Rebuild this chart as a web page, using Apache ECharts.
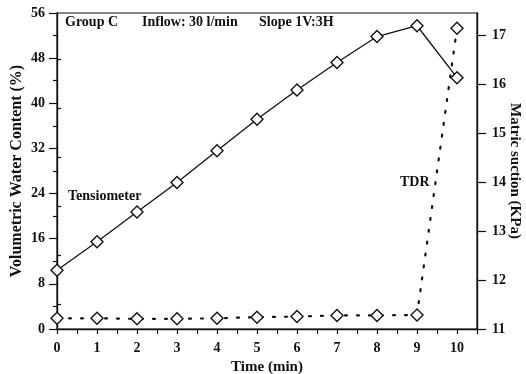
<!DOCTYPE html>
<html>
<head>
<meta charset="utf-8">
<script src="https://cdn.jsdelivr.net/npm/echarts@6/dist/echarts.min.js"></script>
<style>
html,body{margin:0;padding:0;background:#fff;}
#chart{width:526px;height:374px;}
</style>
</head>
<body>
<div id="chart"></div>
<script>
// Data
var time = [0, 1, 2, 3, 4, 5, 6, 7, 8, 9, 10];
var tensiometer = [12.20, 12.78, 13.39, 13.99, 14.64, 15.28, 15.88, 16.44, 16.97, 17.19, 16.13]; // Matric suction (KPa), right axis
var tdr = [1.9, 1.9, 1.8, 1.8, 1.9, 2.1, 2.2, 2.4, 2.4, 2.5, 53.3]; // Volumetric water content (%), left axis
var xTickLabels = [0, 1, 2, 3, 4, 5, 6, 7, 8, 9, 10];
var rightTickLabels = [11, 12, 13, 14, 15, 16, 17];
var rightMinorTicks = [11.5, 12.5, 13.5, 14.5, 15.5, 16.5];

var FONT = '"Liberation Serif", "DejaVu Serif", serif';
var INK = '#111';

var chart = echarts.init(document.getElementById('chart'), null, {renderer: 'canvas'});

function pairs(xs, ys) { return xs.map(function (x, i) { return [x, ys[i]]; }); }

var diamond = {
  symbol: 'diamond',
  symbolSize: 12,
  itemStyle: {color: '#fff', borderColor: INK, borderWidth: 1.4}
};

var option = {
  backgroundColor: '#fff',
  animation: false,
  textStyle: {fontFamily: FONT},
  grid: {left: 57, right: 49, top: 13, bottom: 45, containLabel: false, outerBoundsMode: 'none',
         show: true, borderColor: INK, borderWidth: 1.2, backgroundColor: 'transparent'},
  xAxis: {
    type: 'value', min: 0, max: 10.5, interval: 0.5,
    name: 'Time (min)', nameLocation: 'middle', nameGap: 31, nameMoveOverlap: false,
    nameTextStyle: {fontFamily: FONT, fontWeight: 'bold', fontSize: 15, color: INK},
    axisLine: {show: true, onZero: false, lineStyle: {color: INK, width: 1.4}},
    axisTick: {show: true, inside: false, length: 5, lineStyle: {color: INK, width: 1.2}},
    axisLabel: {customValues: xTickLabels, fontFamily: FONT, fontWeight: 'bold', fontSize: 14, color: INK, margin: 12},
    splitLine: {show: false}
  },
  yAxis: [
    {
      type: 'value', min: 0, max: 56, interval: 8, position: 'left',
      name: 'Volumetric Water Content (%)', nameLocation: 'middle', nameGap: 32, nameRotate: 90, nameMoveOverlap: false,
      nameTextStyle: {fontFamily: FONT, fontWeight: 'bold', fontSize: 16, color: INK},
      axisLine: {show: true, onZero: false, lineStyle: {color: INK, width: 1.4}},
      axisTick: {show: true, inside: false, length: 8, lineStyle: {color: INK, width: 1.2}},
      minorTick: {show: true, splitNumber: 2, length: 4, lineStyle: {color: INK, width: 1.2}},
      axisLabel: {fontFamily: FONT, fontWeight: 'bold', fontSize: 14, color: INK, margin: 12},
      splitLine: {show: false}, minorSplitLine: {show: false}
    },
    {
      type: 'value', min: 11, max: 17.45, position: 'right',
      name: 'Matric suction (KPa)', nameLocation: 'middle', nameGap: 30, nameRotate: -90, nameMoveOverlap: false,
      nameTextStyle: {fontFamily: FONT, fontWeight: 'bold', fontSize: 15, color: INK},
      axisLine: {show: true, onZero: false, lineStyle: {color: INK, width: 1.4}},
      axisTick: {show: true, inside: false, length: 9, customValues: rightTickLabels, lineStyle: {color: INK, width: 1.2}},
      axisLabel: {customValues: rightTickLabels, fontFamily: FONT, fontWeight: 'bold', fontSize: 14, color: INK, margin: 15},
      splitLine: {show: false}
    },
    {
      type: 'value', min: 11, max: 17.45, position: 'right',
      axisLine: {show: false},
      axisTick: {show: true, inside: false, length: 4, customValues: rightMinorTicks, lineStyle: {color: INK, width: 1.2}},
      axisLabel: {show: false},
      splitLine: {show: false}
    }
  ],
  graphic: [
    {type: 'text', left: 65, top: 15, style: {text: 'Group C', font: 'bold 14px ' + FONT, fill: INK}},
    {type: 'text', left: 142, top: 15, style: {text: 'Inflow: 30 l/min', font: 'bold 14px ' + FONT, fill: INK}},
    {type: 'text', left: 259, top: 15, style: {text: 'Slope 1V:3H', font: 'bold 14px ' + FONT, fill: INK}},
    {type: 'text', left: 68, top: 189, style: {text: 'Tensiometer', font: 'bold 14px ' + FONT, fill: INK}},
    {type: 'text', left: 400, top: 175, style: {text: 'TDR', font: 'bold 14px ' + FONT, fill: INK}}
  ],
  series: [
    Object.assign({
      name: 'Tensiometer', type: 'line', yAxisIndex: 1,
      data: pairs(time, tensiometer),
      lineStyle: {color: INK, width: 1.3, type: 'solid'},
      z: 3
    }, diamond),
    Object.assign({
      name: 'TDR', type: 'line', yAxisIndex: 0,
      data: pairs(time, tdr),
      lineStyle: {color: INK, width: 2.2, type: [2, 10], cap: 'round'},
      z: 2
    }, diamond)
  ]
};
chart.setOption(option);
</script>
</body>
</html>
